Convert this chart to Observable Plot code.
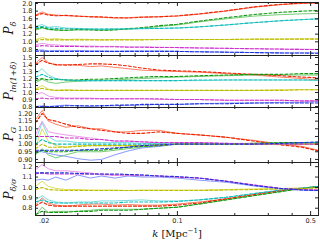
<!DOCTYPE html>
<html><head><meta charset="utf-8">
<script src="https://cdn.jsdelivr.net/npm/d3@7"></script>
<script src="https://cdn.jsdelivr.net/npm/@observablehq/plot@0.6"></script>
<style>
body{margin:0;background:#fff;}
#wrap{position:relative;width:320px;height:240px;overflow:hidden;background:#fff;}
#wrap svg{position:absolute;left:0;}
.yl{position:absolute;font-family:"DejaVu Serif","Liberation Serif",serif;font-style:italic;font-size:12px;color:#111;white-space:nowrap;transform:translate(-50%,-50%) rotate(-90deg);}
.yl sub{font-size:8px;vertical-align:-3px;}
.xl{position:absolute;font-family:"DejaVu Serif","Liberation Serif",serif;font-size:10px;color:#111;white-space:nowrap;transform:translate(-50%,-50%);}
.xl sup{font-size:7px;}
</style></head>
<body><div id="wrap"></div>
<script>
// wavenumbers k [Mpc^-1]
const K = [0.018,0.0195,0.021,0.023,0.026,0.03,0.035,0.04,0.047,0.055,0.065,0.08,0.1,0.13,0.18,0.25,0.35,0.45,0.55];

// Panel 1: P_delta
const p1_red_s = [1.70,1.78,1.72,1.70,1.68,1.67,1.66,1.64,1.62,1.63,1.65,1.66,1.67,1.72,1.80,1.90,1.97,2.00,2.01];
const p1_red_d = [1.68,1.74,1.70,1.68,1.69,1.67,1.65,1.65,1.63,1.62,1.64,1.65,1.68,1.73,1.81,1.91,1.98,2.01,2.02];
const p1_grn_s = [1.30,1.36,1.32,1.31,1.30,1.31,1.32,1.31,1.32,1.33,1.35,1.40,1.44,1.52,1.60,1.67,1.71,1.73,1.74];
const p1_grn_d = [1.33,1.38,1.33,1.31,1.30,1.32,1.31,1.30,1.31,1.34,1.37,1.42,1.46,1.54,1.63,1.71,1.77,1.80,1.82];
const p1_cyn_s = [1.40,1.45,1.38,1.40,1.36,1.35,1.34,1.33,1.34,1.34,1.34,1.35,1.36,1.39,1.44,1.50,1.55,1.58,1.60];
const p1_cyn_d = [1.37,1.40,1.36,1.35,1.34,1.34,1.33,1.33,1.33,1.34,1.35,1.35,1.36,1.39,1.44,1.50,1.55,1.58,1.60];
const p1_yel_s = [1.06,1.11,1.07,1.08,1.06,1.07,1.06,1.05,1.06,1.06,1.06,1.06,1.06,1.06,1.06,1.07,1.07,1.08,1.08];
const p1_yel_d = [1.04,1.06,1.05,1.05,1.05,1.05,1.05,1.05,1.05,1.05,1.05,1.06,1.06,1.06,1.06,1.07,1.07,1.07,1.07];
const p1_mag_s = [0.92,0.96,0.93,0.92,0.90,0.89,0.89,0.88,0.88,0.87,0.87,0.86,0.85,0.84,0.83,0.82,0.81,0.81,0.80];
const p1_mag_d = [0.88,0.90,0.89,0.88,0.88,0.88,0.87,0.87,0.87,0.86,0.86,0.85,0.85,0.84,0.83,0.82,0.81,0.80,0.80];
const p1_blu_s = [0.77,0.79,0.76,0.77,0.76,0.77,0.76,0.76,0.75,0.76,0.76,0.76,0.75,0.74,0.73,0.72,0.71,0.71,0.71];
const p1_blu_d = [0.75,0.76,0.75,0.75,0.75,0.75,0.75,0.75,0.75,0.75,0.75,0.75,0.75,0.74,0.73,0.72,0.71,0.71,0.70];

// Panel 2: P_ln(1+delta)
const p2_red_s = [1.42,1.50,1.43,1.39,1.40,1.39,1.37,1.38,1.36,1.34,1.32,1.31,1.30,1.29,1.27,1.25,1.22,1.20,1.18];
const p2_red_d = [1.40,1.46,1.42,1.40,1.39,1.40,1.41,1.41,1.40,1.38,1.35,1.32,1.31,1.30,1.28,1.26,1.24,1.22,1.21];
const p2_grn_s = [1.14,1.19,1.15,1.13,1.15,1.16,1.17,1.17,1.18,1.19,1.20,1.21,1.22,1.23,1.24,1.25,1.25,1.25,1.25];
const p2_grn_d = [1.17,1.20,1.18,1.19,1.18,1.18,1.19,1.19,1.20,1.21,1.22,1.23,1.23,1.24,1.25,1.26,1.26,1.27,1.27];
const p2_cyn_s = [1.27,1.34,1.25,1.20,1.18,1.17,1.17,1.17,1.17,1.17,1.17,1.17,1.17,1.17,1.18,1.18,1.18,1.18,1.17];
const p2_cyn_d = [1.22,1.26,1.22,1.19,1.18,1.17,1.17,1.17,1.17,1.17,1.17,1.17,1.17,1.18,1.18,1.18,1.18,1.18,1.18];
const p2_yel_s = [1.05,1.10,1.05,1.03,1.04,1.03,1.03,1.03,1.03,1.03,1.03,1.03,1.03,1.03,1.03,1.03,1.04,1.04,1.04];
const p2_yel_d = [1.04,1.06,1.04,1.03,1.03,1.03,1.03,1.03,1.03,1.03,1.03,1.03,1.03,1.03,1.03,1.03,1.03,1.04,1.04];
const p2_mag_s = [0.97,1.00,0.95,0.93,0.92,0.92,0.92,0.91,0.91,0.91,0.91,0.90,0.90,0.90,0.89,0.89,0.89,0.88,0.88];
const p2_mag_d = [0.91,0.92,0.91,0.91,0.91,0.91,0.91,0.91,0.91,0.91,0.91,0.91,0.90,0.90,0.89,0.89,0.89,0.88,0.88];
const p2_blu_s = [0.80,0.81,0.80,0.81,0.82,0.81,0.80,0.81,0.81,0.82,0.82,0.83,0.83,0.84,0.85,0.85,0.86,0.86,0.87];
const p2_blu_d = [0.80,0.80,0.80,0.80,0.81,0.81,0.81,0.81,0.82,0.82,0.83,0.83,0.83,0.84,0.84,0.85,0.85,0.85,0.85];

// Panel 3: P_G
const p3_red_s = [1.16,1.22,1.15,1.13,1.11,1.12,1.10,1.10,1.08,1.08,1.09,1.09,1.07,1.06,1.045,1.025,1.00,0.985,0.96];
const p3_red_d = [1.14,1.20,1.16,1.15,1.13,1.11,1.10,1.09,1.08,1.07,1.07,1.08,1.07,1.06,1.045,1.02,0.995,0.98,0.955];
const p3_grn_s = [0.93,0.97,0.93,0.91,0.93,0.95,0.95,0.95,0.96,0.97,0.98,0.99,1.00,1.00,1.00,1.005,1.01,1.01,1.01];
const p3_grn_d = [0.94,0.96,0.95,0.95,0.95,0.96,0.96,0.96,0.97,0.98,0.985,0.99,1.00,1.00,1.00,1.005,1.01,1.01,1.01];
const p3_cyn_s = [1.02,1.14,1.05,1.02,1.02,1.01,1.01,1.01,1.01,1.01,1.005,1.005,1.00,1.00,1.00,1.00,1.00,1.005,1.01];
const p3_cyn_d = [1.00,1.03,1.01,1.00,1.00,1.00,1.00,1.00,1.00,1.00,1.00,1.00,1.00,1.00,1.00,1.00,1.00,1.005,1.01];
const p3_yel_s = [0.98,1.10,1.02,0.99,0.98,0.99,0.99,0.99,0.99,0.99,0.99,0.995,1.00,1.00,1.00,1.00,1.00,1.00,1.005];
const p3_yel_d = [0.97,1.00,0.98,0.98,0.98,0.985,0.99,0.99,0.99,0.99,0.99,0.995,1.00,1.00,1.00,1.00,1.00,1.00,1.00];
const p3_mag_s = [1.06,1.15,1.08,1.07,1.06,1.05,1.04,1.03,1.02,1.02,1.015,1.01,1.01,1.01,1.005,1.005,1.00,1.00,1.00];
const p3_mag_d = [1.05,1.05,1.05,1.05,1.04,1.04,1.03,1.03,1.02,1.02,1.015,1.01,1.01,1.01,1.005,1.00,1.00,1.00,1.00];
const p3_blu_s = [0.95,0.95,0.94,0.93,0.92,0.905,0.895,0.90,0.93,0.955,0.975,0.985,1.00,1.00,1.00,1.00,1.005,1.01,1.01];
const p3_blu_d = [0.96,0.96,0.96,0.96,0.96,0.96,0.965,0.97,0.975,0.98,0.99,0.995,1.00,1.00,1.00,1.00,1.005,1.01,1.015];

// Panel 4: P_delta/sigma
const p4_red_s = [0.83,0.90,0.85,0.83,0.82,0.83,0.84,0.84,0.83,0.835,0.83,0.83,0.84,0.86,0.89,0.93,0.97,0.99,1.01];
const p4_red_d = [0.82,0.86,0.83,0.82,0.82,0.82,0.82,0.82,0.82,0.82,0.82,0.82,0.83,0.85,0.89,0.93,0.97,0.99,1.01];
const p4_grn_s = [0.73,0.81,0.76,0.77,0.77,0.77,0.78,0.79,0.79,0.79,0.79,0.80,0.81,0.84,0.88,0.92,0.96,0.99,1.01];
const p4_grn_d = [0.74,0.77,0.76,0.76,0.76,0.77,0.77,0.78,0.78,0.78,0.79,0.80,0.81,0.84,0.88,0.92,0.96,0.99,1.01];
const p4_cyn_s = [0.88,0.92,0.88,0.86,0.85,0.86,0.86,0.87,0.87,0.875,0.88,0.87,0.87,0.88,0.905,0.94,0.975,0.995,1.01];
const p4_cyn_d = [0.86,0.88,0.86,0.85,0.85,0.85,0.85,0.85,0.85,0.86,0.86,0.86,0.865,0.88,0.905,0.94,0.975,0.995,1.01];
const p4_yel_s = [1.01,1.06,1.01,0.99,0.98,0.98,0.975,0.975,0.975,0.97,0.975,0.975,0.975,0.975,0.98,0.985,0.99,0.995,1.00];
const p4_yel_d = [0.98,1.00,0.98,0.975,0.97,0.97,0.97,0.97,0.97,0.97,0.97,0.97,0.97,0.97,0.975,0.98,0.985,0.99,0.995];
const p4_mag_s = [1.17,1.22,1.18,1.16,1.16,1.15,1.14,1.12,1.12,1.12,1.11,1.11,1.10,1.09,1.06,1.025,0.99,0.98,0.975];
const p4_mag_d = [1.13,1.14,1.13,1.13,1.13,1.13,1.13,1.13,1.12,1.12,1.12,1.11,1.10,1.09,1.06,1.025,0.99,0.98,0.975];
const p4_blu_s = [1.07,1.08,1.07,1.10,1.07,1.12,1.09,1.11,1.09,1.11,1.10,1.10,1.09,1.07,1.05,1.015,0.985,0.975,0.97];
const p4_blu_d = [1.14,1.14,1.14,1.14,1.14,1.135,1.13,1.13,1.13,1.125,1.12,1.11,1.105,1.09,1.06,1.02,0.99,0.975,0.97];

// colours: [dashed, solid]
const COLORS = {red:["#ee2200","#ff8066"], grn:["#119911","#77cc77"], cyn:["#11bbbb","#77dddd"],
                yel:["#bbbb00","#dddd55"], mag:["#cc33cc","#ee99ee"], blu:["#2233dd","#8899ff"]};

const P1_TICKS = [0.8,1.0,1.2,1.4,1.6,1.8,2.0];
const P2_TICKS = [0.8,0.9,1.0,1.1,1.2,1.3,1.4,1.5];
const P3_TICKS = [0.90,0.95,1.00,1.05,1.10,1.15,1.20];
const P4_TICKS = [0.8,0.9,1.0,1.1,1.2];
const X_MAJOR = [0.02,0.1,0.5];
const X_MINOR = [0.03,0.04,0.05,0.06,0.07,0.08,0.09,0.2,0.3,0.4];
const X_LABELS = [".02","0.1","0.5"];

const SERIES = {
  p1_: {red:[p1_red_s,p1_red_d], grn:[p1_grn_s,p1_grn_d], cyn:[p1_cyn_s,p1_cyn_d], yel:[p1_yel_s,p1_yel_d], mag:[p1_mag_s,p1_mag_d], blu:[p1_blu_s,p1_blu_d]},
  p2_: {red:[p2_red_s,p2_red_d], grn:[p2_grn_s,p2_grn_d], cyn:[p2_cyn_s,p2_cyn_d], yel:[p2_yel_s,p2_yel_d], mag:[p2_mag_s,p2_mag_d], blu:[p2_blu_s,p2_blu_d]},
  p3_: {red:[p3_red_s,p3_red_d], grn:[p3_grn_s,p3_grn_d], cyn:[p3_cyn_s,p3_cyn_d], yel:[p3_yel_s,p3_yel_d], mag:[p3_mag_s,p3_mag_d], blu:[p3_blu_s,p3_blu_d]},
  p4_: {red:[p4_red_s,p4_red_d], grn:[p4_grn_s,p4_grn_d], cyn:[p4_cyn_s,p4_cyn_d], yel:[p4_yel_s,p4_yel_d], mag:[p4_mag_s,p4_mag_d], blu:[p4_blu_s,p4_blu_d]}
};

function rows(prefix, dashed){
  const out = [];
  for (const c of Object.keys(COLORS)) {
    const arr = SERIES[prefix][c][dashed ? 1 : 0];
    arr.forEach((v,i)=>out.push({k:K[i], v, id:c, color: COLORS[c][dashed ? 0 : 1]}));
  }
  return out;
}

const W = 320, ML = 35, MR = 2;
const PW = W - ML - MR;

function panel(prefix, cfg){
  const solid = rows(prefix,false), dashed = rows(prefix,true);
  const PH = cfg.h - cfg.mt - cfg.mb;
  const tk = {stroke:"#222", strokeWidth:1};
  const marks = [
    Plot.line(solid, {x:"k", y:"v", z:"id", stroke:"color", strokeWidth:1, clip:true}),
    Plot.line(dashed, {x:"k", y:"v", z:"id", stroke:"color", strokeWidth:1.1, strokeDasharray:"3,2", clip:true}),
    // inward tick marks (left/right y, bottom/top x)
    Plot.tickY(cfg.ticks, {y:d=>d, insetRight:PW-3, ...tk}),
    Plot.tickY(cfg.ticks, {y:d=>d, insetLeft:PW-3, ...tk}),
    Plot.tickX(X_MAJOR, {x:d=>d, insetTop:PH-4, ...tk}),
    Plot.tickX(X_MAJOR, {x:d=>d, insetBottom:PH-4, ...tk}),
    Plot.tickX(X_MINOR, {x:d=>d, insetTop:PH-2, ...tk}),
    Plot.tickX(X_MINOR, {x:d=>d, insetBottom:PH-2, ...tk}),
    Plot.frame({stroke:"#222", strokeWidth:1}),
    Plot.axisY({ticks:cfg.ticks, tickSize:0, tickPadding:3, tickFormat:d3.format(cfg.fmt), label:null})
  ];
  if (cfg.xlabels) marks.push(Plot.axisX({anchor:"bottom", ticks:X_MAJOR, tickSize:0, tickPadding:3,
      tickFormat: d => X_LABELS[X_MAJOR.indexOf(d)], label:null}));
  const svg = Plot.plot({
    width:W, height:cfg.h, marginLeft:ML, marginRight:MR, marginTop:cfg.mt, marginBottom:cfg.mb,
    style:{background:"transparent", overflow:"visible", fontSize:"6.5px", fontFamily:"'DejaVu Sans', sans-serif", color:"#222"},
    x:{type:"log", domain:[0.018,0.55], axis:null},
    y:{domain:cfg.domain, axis:null},
    color:{type:"identity"},
    marks
  });
  svg.style.top = cfg.top + "px";
  return svg;
}

const wrap = document.getElementById("wrap");
wrap.appendChild(panel("p1_", {top:0, h:55, mt:2, mb:0, domain:[0.643,2.026], ticks:P1_TICKS, fmt:".1f"}));
wrap.appendChild(panel("p2_", {top:55, h:52, mt:0, mb:0, domain:[0.786,1.529], ticks:P2_TICKS, fmt:".1f"}));
wrap.appendChild(panel("p3_", {top:107, h:55, mt:0, mb:0, domain:[0.88,1.239], ticks:P3_TICKS, fmt:".2f"}));
wrap.appendChild(panel("p4_", {top:162, h:67, mt:0, mb:14, domain:[0.73,1.24], ticks:P4_TICKS, fmt:".1f", xlabels:true}));

function addLabel(cls, html, x, y){
  const d = document.createElement("div");
  d.className = cls; d.innerHTML = html;
  d.style.left = x + "px"; d.style.top = y + "px";
  wrap.appendChild(d);
}
addLabel("yl", "P<sub>δ</sub>", 10, 28);
addLabel("yl", "P<sub>ln(1+δ)</sub>", 10, 81);
addLabel("yl", "P<sub>G</sub>", 10, 134);
addLabel("yl", "P<sub>δ/σ</sub>", 10, 189);
addLabel("xl", "<i>k</i> [Mpc<sup>−1</sup>]", 177, 233);
</script></body></html>
